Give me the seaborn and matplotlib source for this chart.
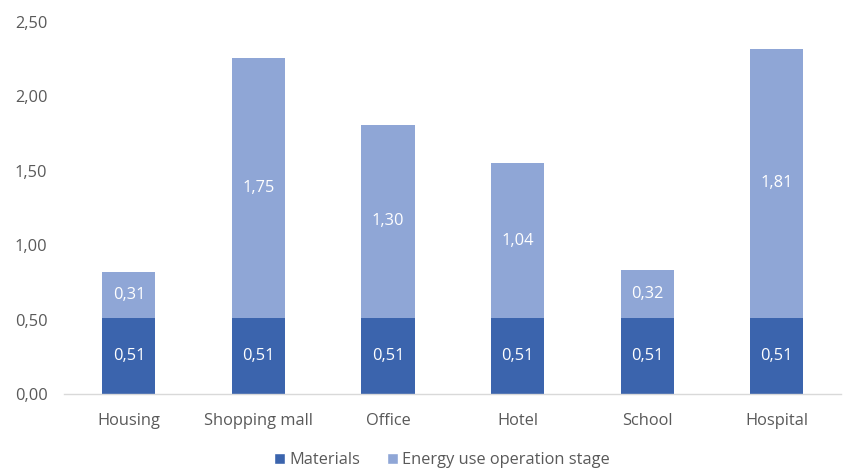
import matplotlib
matplotlib.use("Agg")
import matplotlib.pyplot as plt
import seaborn as sns
import pandas as pd
from matplotlib.patches import Patch

categories = ["Housing", "Shopping mall", "Office", "Hotel", "School", "Hospital"]
materials = [0.51, 0.51, 0.51, 0.51, 0.51, 0.51]
energy = [0.31, 1.75, 1.30, 1.04, 0.32, 1.81]
series_names = ["Materials", "Energy use operation stage"]
yticks = [0.0, 0.5, 1.0, 1.5, 2.0, 2.5]

dark = "#3B64AD"
light = "#8FA6D6"
grey = "#595959"

sns.set_theme(style="white")
plt.rcParams["font.family"] = ["Open Sans", "DejaVu Sans"]

totals = [m + e for m, e in zip(materials, energy)]
df = pd.DataFrame({"cat": categories, "mat": materials, "en": energy, "tot": totals})

fig = plt.figure(figsize=(8.44, 4.69), dpi=100)
ax = fig.add_axes([0.076, 0.16, 0.921, 0.793])

sns.barplot(data=df, x="cat", y="tot", color=light, width=0.41, ax=ax,
            saturation=1, edgecolor="none")
sns.barplot(data=df, x="cat", y="mat", color=dark, width=0.41, ax=ax,
            saturation=1, edgecolor="none")

fs = 11.8
for i, (m, e) in enumerate(zip(materials, energy)):
    ax.text(i, m / 2, f"{m:.2f}".replace(".", ","), ha="center", va="center",
            color="white", fontsize=fs)
    ax.text(i, m + e / 2, f"{e:.2f}".replace(".", ","), ha="center", va="center",
            color="white", fontsize=fs)

ax.set_ylim(0, 2.5)
ax.set_xlim(-0.5, len(categories) - 0.5)
ax.set_yticks(yticks)
ax.set_yticklabels([f"{v:.2f}".replace(".", ",") for v in yticks], color=grey, fontsize=fs)
ax.set_xticklabels(categories, color=grey, fontsize=fs)
ax.tick_params(axis="x", length=0, pad=14)
ax.tick_params(axis="y", length=0, pad=12)
ax.set_xlabel("")
ax.set_ylabel("")
for s in ["top", "right", "left"]:
    ax.spines[s].set_visible(False)
ax.spines["bottom"].set_color("#D9D9D9")
ax.spines["bottom"].set_linewidth(1)

handles = [Patch(facecolor=dark, label=series_names[0]),
           Patch(facecolor=light, label=series_names[1])]
leg = fig.legend(handles=handles, loc="lower center", ncol=2, frameon=False,
                 bbox_to_anchor=(0.524, -0.03), fontsize=fs, handlelength=0.65,
                 handleheight=0.65, handletextpad=0.3, columnspacing=1.6)
for t in leg.get_texts():
    t.set_color(grey)

fig.savefig("out.png", dpi=100)
